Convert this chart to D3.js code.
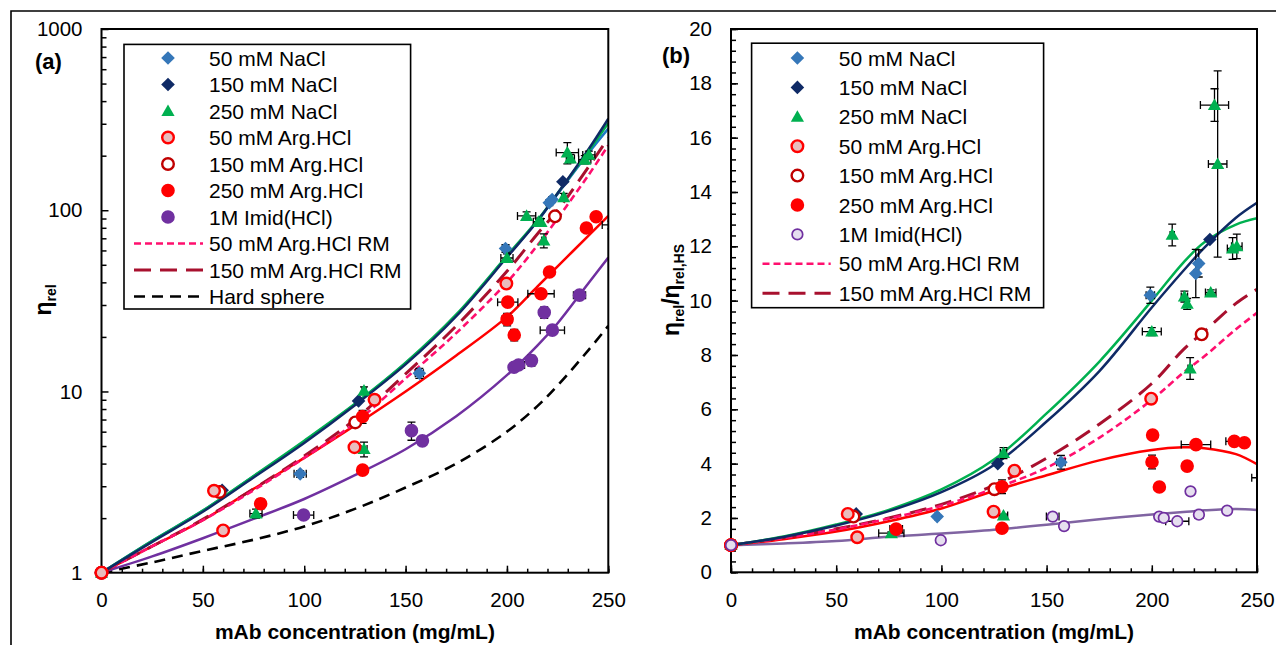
<!DOCTYPE html>
<html>
<head>
<meta charset="utf-8">
<script src="https://cdn.jsdelivr.net/npm/d3@7"></script>
<style>
  body { margin: 0; background: #fff; }
  text { font-family: "Liberation Sans", Arial, Helvetica, sans-serif; fill: #000; }
</style>
</head>
<body>
<svg id="fig" width="1276" height="645"></svg>
<script>
// ---------------- axis ticks ----------------
const ticksConc = [0, 50, 100, 150, 200, 250];
const minorConc = d3.range(0, 251, 10);
const ticksEta = [1, 10, 100, 1000];
const minorEta = [2,3,4,5,6,7,8,9,20,30,40,50,60,70,80,90,200,300,400,500,600,700,800,900];
const ticksRatio = [0, 2, 4, 6, 8, 10, 12, 14, 16, 18, 20];
const minorRatio = d3.range(0, 20.001, 0.4);

// ---------------- measured points ----------------
// c = mAb concentration (mg/mL), ce = its error,
// a = relative viscosity (panel a), ae = its error,
// b = viscosity ratio to hard sphere (panel b), be = its error
const cNaCl50  = [0, 98, 156.8, 199.3, 220.9, 222.3];
const ceaNaCl50 = [0, 3, 2, 1.5, 1, 1];
const aNaCl50  = [1, 3.51, 12.6, 61.5, 110, 114.7];
const aeNaCl50 = [0, 0.15, 0.8, 3, 4, 4];
const cebNaCl50 = [0, 1, 2, 2, 1, 1];
const bNaCl50  = [1, 2.05, 4.05, 10.2, 11.0, 11.37];
const beNaCl50 = [0, 0.05, 0.25, 0.3, 0.89, 0.5];

const cNaCl150  = [0, 59.5, 126.8, 227.6];
const ceaNaCl150 = [0, 0, 0, 0];
const aNaCl150  = [1, 2.85, 8.87, 143.5];
const aeNaCl150 = [0, 0, 0, 0];
const cebNaCl150 = [0, 0, 0, 0];
const bNaCl150  = [1, 2.15, 4.0, 12.25];
const beNaCl150 = [0, 0, 0, 0];

const cNaCl250  = [0, 76.2, 129.5, 129.5, 200, 209.7, 215.5, 216.8, 218.2, 228, 229.8, 231.3, 238.4, 240.4];
const ceaNaCl250 = [0, 3, 1, 1.5, 3, 4.5, 2.5, 1, 1, 1, 5.5, 2, 3, 3];
const aNaCl250  = [1, 2.12, 10.1, 4.81, 54.5, 93, 86.4, 86, 68, 118, 208, 193, 190, 202];
const aeNaCl250 = [0, 0.12, 0.5, 0.45, 3, 5, 4, 4, 6, 6, 28, 10, 10, 10];
const cebNaCl250 = [0, 6, 1.5, 2, 4.5, 1, 1.5, 1, 1, 2.5, 6.7, 4.4, 2.5, 2.5];
const bNaCl250  = [1, 1.44, 4.39, 2.09, 8.86, 12.42, 10.15, 9.88, 7.5, 10.3, 17.2, 15.03, 11.92, 12.0];
const beNaCl250 = [0, 0.05, 0.2, 0.05, 0.15, 0.4, 0.2, 0.2, 0.4, 0.1, 0.6, 3.43, 0.4, 0.45];

const cArg50  = [0, 55.5, 60, 124.8, 134.7, 199.7];
const ceaArg50 = [0, 0, 0, 0, 0, 0];
const aArg50  = [1, 2.83, 1.71, 4.93, 9.0, 39.4];
const aeArg50 = [0, 0, 0, 0, 0, 0];
const cebArg50 = [0, 0, 0, 0, 0, 0];
const bArg50  = [1, 2.15, 1.29, 2.23, 3.74, 6.39];
const beArg50 = [0, 0, 0, 0, 0, 0];

const cArg150  = [0, 58.2, 125.2, 223.7];
const ceaArg150 = [0, 0, 0, 0];
const aArg150  = [1, 2.79, 6.75, 92.5];
const aeArg150 = [0, 0, 0, 0];
const cebArg150 = [0, 0, 0, 0];
const bArg150  = [1, 2.05, 3.06, 8.76];
const beArg150 = [0, 0, 0, 0];

const cArg250  = [0, 78.5, 128.8, 128.8, 200.1, 200.4, 203.6, 216.8, 221, 239.2, 244, 251.5];
const ceaArg250 = [0, 1.5, 1, 1.5, 2.5, 5, 1, 6.5, 1.5, 1, 1, 4.5];
const aArg250  = [1, 2.40, 3.68, 7.27, 25, 31.1, 20.5, 34.6, 45.6, 79.8, 92, 83];
const aeArg250 = [0, 0.15, 0.15, 0.6, 2, 1.5, 1.5, 1.5, 2, 3, 4, 4];
const cebArg250 = [0, 3, 1, 2, 1, 1, 1, 1, 7, 4, 1, 4];
const bArg250  = [1, 1.59, 1.62, 3.15, 4.06, 5.05, 3.14, 3.91, 4.70, 4.82, 4.77, 3.48];
const beArg250 = [0, 0.08, 0.08, 0.25, 0.25, 0.1, 0.15, 0.05, 0.1, 0.1, 0.1, 0.25];

const cImid  = [0, 99.7, 152.9, 158.3, 203.5, 205.7, 212.1, 218.4, 222.4, 235.8];
const ceaImid = [0, 5, 1, 1, 1, 3, 2, 2, 6, 3];
const aImid  = [1, 2.08, 6.08, 5.34, 13.6, 14, 14.8, 27.3, 21.8, 34];
const aeImid = [0, 0.05, 0.7, 0.2, 0.5, 0.5, 1, 2, 0.5, 1.5];
const cebImid = [0, 1, 3, 2, 1, 1, 5.5, 1, 2, 1];
const bImid  = [1, 1.18, 2.05, 1.70, 2.05, 2.0, 1.88, 2.98, 2.12, 2.27];
const beImid = [0, 0, 0.1, 0.1, 0, 0, 0.05, 0.05, 0.1, 0.05];

// ---------------- model curves ----------------
const gridConc = [0, 25, 50, 75, 100, 125, 150, 175, 200, 215, 225, 240, 250];
const fitA_NaCl50  = [1, 1.5, 2.2, 3.4, 5.3, 8.5, 14.3, 26.3, 55.6, 87, 123, 205, 282];
const fitA_NaCl150 = [1, 1.48, 2.17, 3.35, 5.2, 8.4, 14.1, 26, 55, 87, 124, 215, 320];
const fitA_NaCl250 = [1, 1.5, 2.2, 3.42, 5.35, 8.55, 14.4, 26.6, 56, 88, 124, 210, 303];
const fitA_Arg250  = [1, 1.4, 1.95, 2.9, 4.3, 6.5, 10, 15.8, 25.8, 37.9, 49, 72, 93];
const fitA_Imid    = [1, 1.23, 1.55, 1.98, 2.55, 3.45, 4.8, 7.3, 12.3, 17.9, 23.8, 39.3, 54.8];
const rmA_Arg50    = [1, 1.4, 1.95, 2.85, 4.3, 6.7, 11.8, 21, 40, 64, 90, 155, 228];
const rmA_Arg150   = [1, 1.4, 1.97, 2.9, 4.4, 7.0, 12.5, 23, 46, 74, 100, 172, 250];
const hardSphereA  = [1, 1.14, 1.32, 1.52, 1.8, 2.25, 2.95, 4.0, 6.0, 8.3, 10.8, 16.8, 23];

const fitB_NaCl150 = [1, 1.3, 1.72, 2.25, 2.95, 3.95, 5.55, 7.4, 9.75, 11.1, 11.95, 13.05, 13.6];
const fitB_NaCl250 = [1, 1.32, 1.76, 2.3, 3.05, 4.15, 5.85, 7.75, 10.0, 11.4, 12.15, 12.8, 13.03];
const fitB_Arg250  = [1, 1.22, 1.5, 1.88, 2.35, 3.0, 3.57, 4.12, 4.5, 4.6, 4.57, 4.35, 3.98];
const fitB_Imid    = [1, 1.06, 1.15, 1.31, 1.43, 1.57, 1.75, 1.95, 2.13, 2.22, 2.28, 2.33, 2.29];
const rmB_Arg50    = [1, 1.26, 1.58, 1.98, 2.45, 3.08, 3.85, 4.95, 6.35, 7.35, 7.95, 8.95, 9.55];
const rmB_Arg150   = [1, 1.27, 1.6, 2.0, 2.5, 3.2, 4.2, 5.45, 6.95, 8.2, 8.87, 9.9, 10.42];

// ---------------- styles ----------------
const C = {
  blue: "#3577B9", blueLine: "#1C79C6", navy: "#0F2A66", green: "#00B050",
  red: "#FF0000", darkRed: "#C00000", pinkFill: "#E9BDBD",
  purple: "#7030A0", lavender: "#E6DFEF", purpleLine: "#8064A2",
  rmPink: "#FF0F6E", rmDark: "#A8102E"
};
const ST = {
  NaCl50:  { shape: "diamond",  fill: C.blue,  stroke: "none", sw: 0, r: 6.8, label: "50 mM NaCl" },
  NaCl150: { shape: "diamond",  fill: C.navy,  stroke: "none", sw: 0, r: 6.8, label: "150 mM NaCl" },
  NaCl250: { shape: "triangle", fill: C.green, stroke: "none", sw: 0, r: 6.6, label: "250 mM NaCl" },
  Arg50:   { shape: "circle", fill: C.pinkFill, stroke: C.red, sw: 2.4, r: 5.8, label: "50 mM Arg.HCl" },
  Arg150:  { shape: "circle", fill: "#fff", stroke: C.darkRed, sw: 2.4, r: 5.8, label: "150 mM Arg.HCl" },
  Arg250:  { shape: "circle", fill: C.red, stroke: "none", sw: 0, r: 6.8, label: "250 mM Arg.HCl" },
  ImidA:   { shape: "circle", fill: C.purple, stroke: "none", sw: 0, r: 6.8, label: "1M Imid(HCl)" },
  ImidB:   { shape: "circle", fill: C.lavender, stroke: C.purple, sw: 1.7, r: 5.3, label: "1M Imid(HCl)" }
};
const LN = {
  rm50:  { color: C.rmPink, width: 2.6, dash: "7,4", label: "50 mM Arg.HCl RM" },
  rm150: { color: C.rmDark, width: 3, dash: "17,9", label: "150 mM Arg.HCl RM" },
  hs:    { color: "#000", width: 2.6, dash: "11,7", label: "Hard sphere" }
};

const svg = d3.select("#fig");

// figure frame
svg.append("path").attr("d", "M11,645 V11 H1276")
  .attr("fill", "none").attr("stroke", "#000").attr("stroke-width", 1.6);

function markerPath(shape, r) {
  if (shape === "diamond") return `M0,${-r}L${r},0L0,${r}L${-r},0Z`;
  if (shape === "triangle") return `M0,${-r}L${r},${r * 0.75}L${-r},${r * 0.75}Z`;
  return d3.arc()({ innerRadius: 0, outerRadius: r, startAngle: 0, endAngle: 2 * Math.PI });
}

function drawMarker(g, st, px, py) {
  g.append("path").attr("d", markerPath(st.shape, st.r))
    .attr("transform", `translate(${px},${py})`)
    .attr("fill", st.fill).attr("stroke", st.stroke).attr("stroke-width", st.sw);
}

function panel(cfg) {
  const { x, y, id } = cfg;
  const [x0, x1] = x.range();
  const [yb, yt] = y.range();
  const g = svg.append("g");

  g.append("clipPath").attr("id", id).append("rect")
    .attr("x", x0).attr("y", yt).attr("width", x1 - x0).attr("height", yb - yt);
  const plot = g.append("g").attr("clip-path", `url(#${id})`);

  // model curves
  const line = d3.line().x(d => x(d[0])).y(d => y(d[1])).curve(d3.curveCatmullRom.alpha(0.5));
  cfg.curves.forEach(cv => {
    plot.append("path").attr("d", line(gridConc.map((c, i) => [c, cv.values[i]])))
      .attr("fill", "none").attr("stroke", cv.color).attr("stroke-width", cv.width)
      .attr("stroke-dasharray", cv.dash || null);
  });

  // error bars
  const eb = plot.append("g").attr("stroke", "#000").attr("stroke-width", 1.3).attr("fill", "none");
  cfg.series.forEach(s => {
    s.c.forEach((c, i) => {
      const v = s.v[i], px = x(c), py = y(v);
      const xe = s.ce[i], ye = s.ve[i];
      if (xe > 0) {
        const l = x(c - xe), r = x(c + xe);
        eb.append("path").attr("d", `M${l},${py}H${r}M${l},${py - 4}V${py + 4}M${r},${py - 4}V${py + 4}`);
      }
      if (ye > 0) {
        const t = y(v + ye), b = y(Math.max(v - ye, 1e-3));
        eb.append("path").attr("d", `M${px},${t}V${b}M${px - 4},${t}H${px + 4}M${px - 4},${b}H${px + 4}`);
      }
    });
  });

  // axes
  const tickStyle = sel => {
    sel.select(".domain").remove();
    sel.selectAll(".tick line").attr("stroke", "#000").attr("stroke-width", 1.5);
    sel.selectAll(".tick text").style("font-size", "20.5px").style("font-family", '"Liberation Sans", Arial, sans-serif').attr("fill", "#000");
  };
  g.append("g").attr("transform", `translate(0,${yb})`)
    .call(d3.axisBottom(x).tickValues(minorConc).tickSize(-4).tickFormat("")).call(tickStyle);
  g.append("g").attr("transform", `translate(0,${yb})`)
    .call(d3.axisBottom(x).tickValues(ticksConc).tickSize(-7).tickPadding(20).tickFormat(d3.format("d"))).call(tickStyle);
  g.append("g").attr("transform", `translate(${x0},0)`)
    .call(d3.axisLeft(y).tickValues(cfg.yMinor).tickSize(-5).tickFormat("")).call(tickStyle);
  g.append("g").attr("transform", `translate(${x0},0)`)
    .call(d3.axisLeft(y).tickValues(cfg.yTicks).tickSize(-7).tickPadding(19).tickFormat(d3.format("d"))).call(tickStyle);

  // plot frame
  g.append("rect").attr("x", x0).attr("y", yt).attr("width", x1 - x0).attr("height", yb - yt)
    .attr("fill", "none").attr("stroke", "#000").attr("stroke-width", 2);

  // data markers, drawn over the frame; points beyond the axis range are skipped
  const mk = g.append("g");
  cfg.drawOrder.forEach(s => {
    s.c.forEach((c, i) => { if (c <= 250) drawMarker(mk, s.st, x(c), y(s.v[i])); });
  });

  // axis titles
  g.append("text").attr("x", (x0 + x1) / 2).attr("y", 639).attr("text-anchor", "middle")
    .attr("font-weight", "bold").style("font-size", "21px").text("mAb concentration (mg/mL)");
  const yt2 = g.append("text").attr("text-anchor", "middle").attr("font-weight", "bold")
    .attr("transform", `translate(${cfg.yTitlePos[0]},${cfg.yTitlePos[1]}) rotate(-90)`);
  cfg.yTitle.forEach(p => {
    yt2.append("tspan").text(p.t).style("font-size", p.sub ? "14px" : "23px")
      .attr("dy", p.dy || 0);
  });

  // panel letter
  g.append("text").attr("x", cfg.letterPos[0]).attr("y", cfg.letterPos[1])
    .attr("font-weight", "bold").style("font-size", "22px").text(cfg.letter);

  // legend
  const L = cfg.legend;
  const lg = g.append("g");
  lg.append("rect").attr("x", L.x).attr("y", L.y).attr("width", L.w).attr("height", L.h)
    .attr("fill", "#fff").attr("stroke", "#000").attr("stroke-width", 1.6);
  L.items.forEach((it, i) => {
    const cy = L.row0 + i * L.step;
    if (it.st) drawMarker(lg, it.st, L.markerX, cy);
    else lg.append("line").attr("x1", L.lineX[0]).attr("x2", L.lineX[1]).attr("y1", cy).attr("y2", cy)
      .attr("stroke", it.ln.color).attr("stroke-width", it.ln.width).attr("stroke-dasharray", it.ln.dash);
    lg.append("text").attr("x", L.textX).attr("y", cy + 7.5).style("font-size", "21px")
      .text(it.st ? it.st.label : it.ln.label);
  });
}

// ---------------- panel (a) ----------------
const xA = d3.scaleLinear().domain([0, 250]).range([101.5, 608.3]);
const yA = d3.scaleLog().domain([1, 1000]).range([572.7, 29]);
const sA = {
  NaCl50:  { c: cNaCl50,  ce: ceaNaCl50,  v: aNaCl50,  ve: aeNaCl50,  st: ST.NaCl50 },
  NaCl150: { c: cNaCl150, ce: ceaNaCl150, v: aNaCl150, ve: aeNaCl150, st: ST.NaCl150 },
  NaCl250: { c: cNaCl250, ce: ceaNaCl250, v: aNaCl250, ve: aeNaCl250, st: ST.NaCl250 },
  Arg50:   { c: cArg50,   ce: ceaArg50,   v: aArg50,   ve: aeArg50,   st: ST.Arg50 },
  Arg150:  { c: cArg150,  ce: ceaArg150,  v: aArg150,  ve: aeArg150,  st: ST.Arg150 },
  Arg250:  { c: cArg250,  ce: ceaArg250,  v: aArg250,  ve: aeArg250,  st: ST.Arg250 },
  Imid:    { c: cImid,    ce: ceaImid,    v: aImid,    ve: aeImid,    st: ST.ImidA }
};
panel({
  id: "clipA", x: xA, y: yA, yTicks: ticksEta, yMinor: minorEta,
  curves: [
    { values: hardSphereA, color: "#000", width: 2.6, dash: LN.hs.dash },
    { values: fitA_Imid, color: C.purple, width: 2.5 },
    { values: fitA_Arg250, color: C.red, width: 2.5 },
    { values: rmA_Arg150, color: LN.rm150.color, width: LN.rm150.width, dash: LN.rm150.dash },
    { values: rmA_Arg50, color: LN.rm50.color, width: LN.rm50.width, dash: LN.rm50.dash },
    { values: fitA_NaCl50, color: C.blueLine, width: 2.5 },
    { values: fitA_NaCl250, color: C.green, width: 2.5 },
    { values: fitA_NaCl150, color: C.navy, width: 2.5 }
  ],
  series: Object.values(sA),
  drawOrder: [sA.NaCl50, sA.NaCl150, sA.NaCl250, sA.Arg150, sA.Arg250, sA.Imid, sA.Arg50],
  yTitle: [{ t: "η" }, { t: "rel", sub: true, dy: 5 }],
  yTitlePos: [51, 300],
  letter: "(a)", letterPos: [35, 69],
  legend: {
    x: 124, y: 44.4, w: 286.6, h: 264.6, row0: 58, step: 26.5,
    markerX: 168, textX: 209, lineX: [134, 203],
    items: [
      { st: ST.NaCl50 }, { st: ST.NaCl150 }, { st: ST.NaCl250 },
      { st: ST.Arg50 }, { st: ST.Arg150 }, { st: ST.Arg250 }, { st: ST.ImidA },
      { ln: LN.rm50 }, { ln: LN.rm150 }, { ln: LN.hs }
    ]
  }
});

// ---------------- panel (b) ----------------
const xB = d3.scaleLinear().domain([0, 250]).range([731, 1257]);
const yB = d3.scaleLinear().domain([0, 20]).range([572.3, 29]);
const sB = {
  NaCl50:  { c: cNaCl50,  ce: cebNaCl50,  v: bNaCl50,  ve: beNaCl50,  st: ST.NaCl50 },
  NaCl150: { c: cNaCl150, ce: cebNaCl150, v: bNaCl150, ve: beNaCl150, st: ST.NaCl150 },
  NaCl250: { c: cNaCl250, ce: cebNaCl250, v: bNaCl250, ve: beNaCl250, st: ST.NaCl250 },
  Arg50:   { c: cArg50,   ce: cebArg50,   v: bArg50,   ve: beArg50,   st: ST.Arg50 },
  Arg150:  { c: cArg150,  ce: cebArg150,  v: bArg150,  ve: beArg150,  st: ST.Arg150 },
  Arg250:  { c: cArg250,  ce: cebArg250,  v: bArg250,  ve: beArg250,  st: ST.Arg250 },
  Imid:    { c: cImid,    ce: cebImid,    v: bImid,    ve: beImid,    st: ST.ImidB }
};
panel({
  id: "clipB", x: xB, y: yB, yTicks: ticksRatio, yMinor: minorRatio,
  curves: [
    { values: fitB_Imid, color: C.purpleLine, width: 2.5 },
    { values: fitB_Arg250, color: C.red, width: 2.5 },
    { values: rmB_Arg150, color: LN.rm150.color, width: LN.rm150.width, dash: LN.rm150.dash },
    { values: rmB_Arg50, color: LN.rm50.color, width: LN.rm50.width, dash: LN.rm50.dash },
    { values: fitB_NaCl250, color: C.green, width: 2.5 },
    { values: fitB_NaCl150, color: C.navy, width: 2.5 }
  ],
  series: Object.values(sB),
  drawOrder: [sB.NaCl50, sB.NaCl150, sB.NaCl250, sB.Arg150, sB.Arg250, sB.Arg50, sB.Imid],
  yTitle: [{ t: "η" }, { t: "rel", sub: true, dy: 5 }, { t: "/", dy: -5 }, { t: "η" }, { t: "rel,HS", sub: true, dy: 5 }],
  yTitlePos: [679, 290],
  letter: "(b)", letterPos: [662, 63],
  legend: {
    x: 751.6, y: 43.2, w: 292, h: 264.5, row0: 58, step: 29.4,
    markerX: 797.4, textX: 838.8, lineX: [762.5, 830.7],
    items: [
      { st: ST.NaCl50 }, { st: ST.NaCl150 }, { st: ST.NaCl250 },
      { st: ST.Arg50 }, { st: ST.Arg150 }, { st: ST.Arg250 }, { st: ST.ImidB },
      { ln: LN.rm50 }, { ln: LN.rm150 }
    ]
  }
});
</script>
</body>
</html>
